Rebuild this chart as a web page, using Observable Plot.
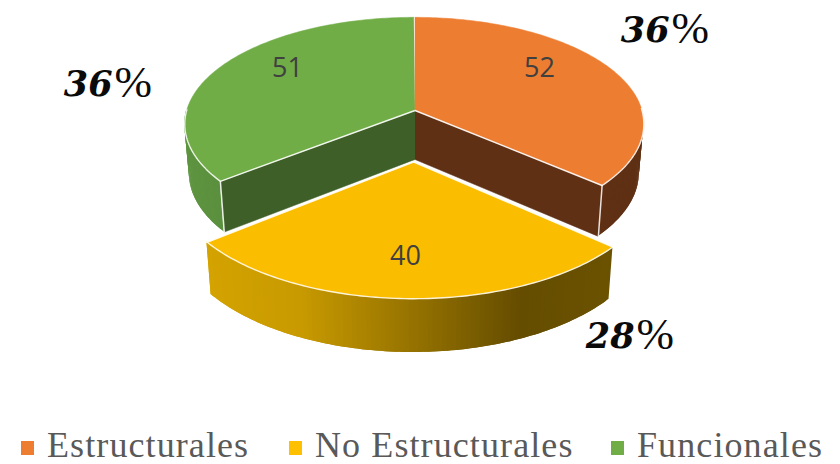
<!DOCTYPE html>
<html><head><meta charset="utf-8">
<script src="https://cdn.jsdelivr.net/npm/d3@7"></script>
<script src="https://cdn.jsdelivr.net/npm/@observablehq/plot@0.6"></script>
<style>
html,body{margin:0;padding:0;background:#fff;width:840px;height:464px;overflow:hidden}
#legend{height:44px;position:relative;font-family:"Liberation Serif",serif;font-size:36px;letter-spacing:1.1px;color:#595959;line-height:44px;white-space:nowrap}
#legend span{position:absolute;top:3px}
#legend i{display:inline-block;width:13px;height:14px;position:absolute;top:21px}
</style></head><body>
<div id="chart"></div><div id="legend"></div>
<script>
const categories=["Estructurales","No Estructurales","Funcionales"];
const values=[52,40,51];
const percentDigits=["36","28","36"];
const percentSign="%";
const topColors=["#ED7D31","#FBBD00","#70AD47"];
const wallColors=["#5F3014","#654D00","#3E5F27"];
const rimStops=[["#5F3014","#5F3014"],["#D4A300","#C89A00","#957200","#654D00","#6B5200"],["#5E9440","#578A3B"]];
const rimStopX=[[600,645],[205,300,414,520,612],[186,260]];
const explodedV=[0,0.46,0];
const explodedU=[0,-0.007,-0.006];
const legendX=[21,289,611];
const labelAnchors=[[539,68],[405,256],[287,68]];
const pctSplitX=[669,634,112];
const pctBaseline=[42,348,96];

const cx=414.5,cy=110,R=227,K=105,P=0.127;
const total=d3.sum(values);
const W=840,H=420;
function proj(u,v){const s=1/(1-P*v);return {x:cx+R*u*s,y:cy+K*v*s,s};}
function low(p){return {x:cx+(p.x-cx)*0.98,y:p.y+28+21*p.s};}

let acc=0;
const slices=values.map((val,i)=>{
  const a0=acc/total*2*Math.PI; acc+=val; const a1=acc/total*2*Math.PI;
  const d=explodedV[i],e=explodedU[i];
  const pts=[];const n=Math.ceil((a1-a0)*180/Math.PI);
  for(let k=0;k<=n;k++){const a=a0+(a1-a0)*k/n;pts.push({a,...proj(Math.sin(a)+e,-Math.cos(a)+d)});}
  const apex=proj(i===2?0:e,d);
  return {i,a0,a1,d,pts,apex};
});

const marks=[];
const order=[2,0,1];
for(const i of order){
  const s=slices[i];
  const color=d3.scaleLinear().domain(rimStopX[i]).range(rimStops[i]).clamp(true);
  const vis=s.pts.filter(p=>-Math.cos(p.a)>=-0.02);
  // Each quad overlaps the next one so no seams appear between colour steps.
  const quads=[];
  vis.slice(0,-1).forEach((p,k)=>{
    const q=vis[Math.min(k+2,vis.length-1)],m=vis[k+1];
    const c=color((p.x+m.x)/2);
    [p,m,q].forEach(o=>{const l=low(o);quads.push({z:k,c,x1:o.x,y1:o.y,x2:l.x,y2:l.y});});
  });
  marks.push(Plot.area(quads,{x1:"x1",y1:"y1",x2:"x2",y2:"y2",z:"z",fill:"c"}));
  if(i!==1){
    const edge=i===0?s.pts[s.pts.length-1]:s.pts[0];
    const wall=[s.apex,edge,low(edge),low(s.apex)];
    marks.push(Plot.line(wall,{x:"x",y:"y",fill:wallColors[i],stroke:wallColors[i],strokeWidth:0.5}));
    marks.push(Plot.line([edge,low(edge)],{x:"x",y:"y",stroke:"#fff",strokeWidth:1.5,strokeOpacity:.85}));
  }
  marks.push(Plot.line([s.apex,...s.pts],{x:"x",y:"y",fill:topColors[i],stroke:topColors[i],strokeWidth:0.5}));
  marks.push(Plot.line(vis,{x:"x",y:"y",stroke:"#fff",strokeWidth:1.4,strokeOpacity:.85}));
  const edges=i===1?[s.pts[0],s.apex,s.pts[s.pts.length-1]]:(i===0?[s.apex,s.pts[s.pts.length-1]]:[s.apex,s.pts[0]]);
  marks.push(Plot.line(edges,{x:"x",y:"y",stroke:"#fff",strokeWidth:i===1?1.8:1.4,strokeOpacity:.9}));
}
const labels=values.map((v,i)=>({t:String(v),x:labelAnchors[i][0],y:labelAnchors[i][1]}));
const digits=percentDigits.map((t,i)=>({t,x:pctSplitX[i],y:pctBaseline[i]-11.5}));
const signs=percentDigits.map((t,i)=>({t:percentSign,x:pctSplitX[i]+2,y:pctBaseline[i]-14}));
marks.push(Plot.text(labels,{x:"x",y:"y",text:"t",fontSize:27,fill:"#404040",fontFamily:"'Open Sans'"}));
marks.push(Plot.text(digits,{x:"x",y:"y",text:"t",textAnchor:"end",fontSize:35,fill:"#0a0a0a",fontFamily:"'DejaVu Serif'",fontWeight:"bold",fontStyle:"italic"}));
marks.push(Plot.text(signs,{x:"x",y:"y",text:"t",textAnchor:"start",fontSize:45,fill:"#0a0a0a",fontFamily:"'Liberation Serif'"}));

const chart=Plot.plot({width:W,height:H,margin:0,
  x:{domain:[0,W],range:[0,W],axis:null},
  y:{domain:[0,H],range:[0,H],axis:null},
  color:{type:"identity"},
  style:{background:"#fff"},
  marks});
document.getElementById("chart").appendChild(chart);
chart.style.display="block";
const lg=document.getElementById("legend");
categories.forEach((c,i)=>{
  const sw=document.createElement("i");sw.style.left=legendX[i]+"px";sw.style.background=topColors[i]==="#FBBD00"?"#FFC000":topColors[i];lg.appendChild(sw);
  const t=document.createElement("span");t.textContent=c;t.style.left=(legendX[i]+26)+"px";lg.appendChild(t);
});
</script></body></html>
